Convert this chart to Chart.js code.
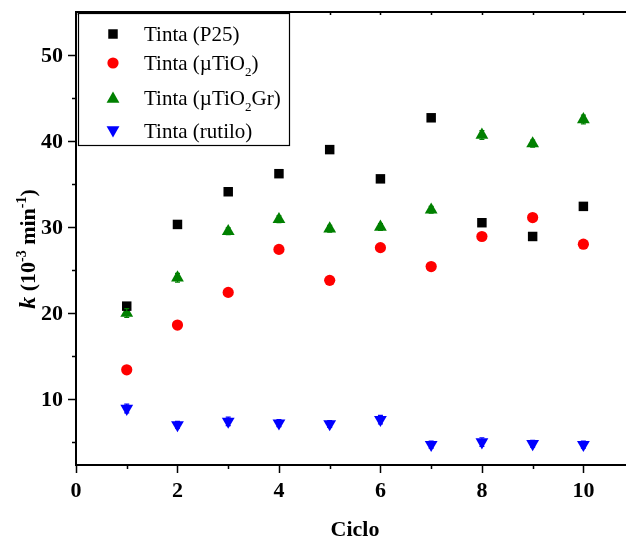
<!DOCTYPE html>
<html>
<head>
<meta charset="utf-8">
<script src="https://cdn.jsdelivr.net/npm/chart.js@4/dist/chart.umd.min.js"></script>
<style>
  html, body { margin: 0; padding: 0; background: #fff; }
  #wrap { width: 626px; height: 541px; }
</style>
</head>
<body>
<div id="wrap"><canvas id="c" width="626" height="541"></canvas></div>
<script>
// Reaction rate constant k over repeated photocatalytic cycles
const cycles = [1, 2, 3, 4, 5, 6, 7, 8, 9, 10];
const kP25    = [20.8, 30.3, 34.1, 36.2, 39.0, 35.6, 42.7, 30.5, 28.9, 32.4];
const kTiO2   = [13.4, 18.6, 22.4, 27.4, 23.8, 27.6, 25.4, 28.9, 31.1, 28.0];
const kTiO2Gr = [20.0, 24.1, 29.5, 30.9, 29.8, 30.0, 32.0, 40.7, 39.7, 42.5];
const kRutilo = [8.9, 7.0, 7.4, 7.2, 7.1, 7.6, 4.7, 5.0, 4.8, 4.7];
const errTiO2Gr = [0.5, 0.5, 0.4, 0.4, 0.4, 0.4, 0.4, 0.5, 0.4, 0.5];
const errRutilo = [0.5, 0.4, 0.5, 0.4, 0.4, 0.5, 0.4, 0.5, 0.4, 0.4];

const xMajor = [0, 2, 4, 6, 8, 10];
const xMinor = [1, 3, 5, 7, 9];
const yMajor = [10, 20, 30, 40, 50];
const yMinor = [5, 15, 25, 35, 45];

const seriesNames = ['Tinta (P25)', 'Tinta (\u00b5TiO_2)', 'Tinta (\u00b5TiO_2Gr)', 'Tinta (rutilo)'];

const SERIF = '"Liberation Serif", "Times New Roman", serif';

function pts(ys) { return cycles.map((c, i) => ({ x: c, y: ys[i] })); }

// Split text into segments; "_x" marks a subscript, "^x" a superscript
function richSegments(str) {
  const out = [];
  let i = 0, buf = '';
  while (i < str.length) {
    const ch = str[i];
    if (ch === '_' || ch === '^') {
      if (buf) { out.push({ t: buf, k: 'n' }); buf = ''; }
      let j = i + 1, s = '';
      if (str[j] === '{') { j++; while (str[j] !== '}') s += str[j++]; j++; }
      else { s = str[j]; j++; }
      out.push({ t: s, k: ch === '_' ? 'sub' : 'sup' });
      i = j;
    } else { buf += ch; i++; }
  }
  if (buf) out.push({ t: buf, k: 'n' });
  return out;
}

function drawRich(ctx, str, x, y, size, weight, align) {
  const segs = richSegments(str);
  const small = Math.round(size * 0.62);
  const fontFor = (s) => (s.k === 'n' ? `${weight} ${size}px ${SERIF}` : `${weight} ${small}px ${SERIF}`);
  let total = 0;
  segs.forEach(s => { ctx.font = fontFor(s); s.w = ctx.measureText(s.t).width; total += s.w; });
  let cx = align === 'center' ? x - total / 2 : x;
  ctx.textAlign = 'left';
  ctx.textBaseline = 'alphabetic';
  segs.forEach(s => {
    ctx.font = fontFor(s);
    let dy = 0;
    if (s.k === 'sub') dy = size * 0.28;
    if (s.k === 'sup') dy = -size * 0.42;
    ctx.fillText(s.t, cx, y + dy);
    cx += s.w;
  });
}

const markerRadius = [6.7, 5.6, 7.4, 7.4];

const frame = {
  id: 'frame',
  beforeDatasetsDraw(chart) {
    const { ctx, chartArea: a, scales: { x, y } } = chart;
    ctx.save();
    ctx.strokeStyle = '#000';
    ctx.fillStyle = '#000';
    ctx.lineWidth = 2;
    // axis lines (left, bottom, top)
    ctx.beginPath();
    ctx.moveTo(a.left, a.top); ctx.lineTo(a.left, a.bottom + 1);
    ctx.moveTo(a.left - 1, a.bottom); ctx.lineTo(a.right, a.bottom);
    ctx.moveTo(a.left - 1, a.top); ctx.lineTo(a.right, a.top);
    ctx.stroke();

    ctx.lineWidth = 1.5;
    ctx.beginPath();
    xMajor.forEach(v => { const px = Math.round(x.getPixelForValue(v)) + 0.5; ctx.moveTo(px, a.bottom); ctx.lineTo(px, a.bottom + 8); });
    xMinor.forEach(v => { const px = Math.round(x.getPixelForValue(v)) + 0.5; ctx.moveTo(px, a.bottom); ctx.lineTo(px, a.bottom + 4); });
    yMajor.forEach(v => { const py = Math.round(y.getPixelForValue(v)) + 0.5; ctx.moveTo(a.left, py); ctx.lineTo(a.left - 8, py); });
    yMinor.forEach(v => { const py = Math.round(y.getPixelForValue(v)) + 0.5; ctx.moveTo(a.left, py); ctx.lineTo(a.left - 4, py); });
    xMajor.concat(xMinor).forEach(v => { const px = Math.round(x.getPixelForValue(v)) + 0.5; ctx.moveTo(px, a.top); ctx.lineTo(px, a.top + 3); });
    ctx.stroke();

    // tick labels
    ctx.font = `bold 22px ${SERIF}`;
    ctx.textAlign = 'center';
    ctx.textBaseline = 'middle';
    xMajor.forEach(v => ctx.fillText(String(v), x.getPixelForValue(v), a.bottom + 26));
    ctx.textAlign = 'right';
    yMajor.forEach(v => ctx.fillText(String(v), a.left - 13, y.getPixelForValue(v) + 1));

    // axis titles
    ctx.textAlign = 'center';
    ctx.textBaseline = 'alphabetic';
    ctx.font = `bold 22px ${SERIF}`;
    ctx.fillText('Ciclo', 355, 536);

    ctx.translate(35, 249);
    ctx.rotate(-Math.PI / 2);
    const kFont = `italic bold 24px ${SERIF}`;
    ctx.font = kFont;
    const kW = ctx.measureText('k').width;
    const rest = ' (10^{-3} min^{-1})';
    const segs = richSegments(rest);
    let restW = 0;
    segs.forEach(s => { ctx.font = s.k === 'n' ? `bold 22px ${SERIF}` : `bold 14px ${SERIF}`; restW += ctx.measureText(s.t).width; });
    const start = -(kW + restW) / 2;
    ctx.font = kFont;
    ctx.textAlign = 'left';
    ctx.fillText('k', start, 0);
    drawRich(ctx, rest, start + kW, 0, 22, 'bold', 'left');
    ctx.restore();
  },
  afterDatasetsDraw(chart) {
    const { ctx, scales: { x, y } } = chart;
    ctx.save();
    // small error bars on the triangle series
    const bars = [[kTiO2Gr, errTiO2Gr, '#008000'], [kRutilo, errRutilo, '#0000ff']];
    bars.forEach(([vals, errs, col]) => {
      ctx.strokeStyle = col;
      ctx.lineWidth = 1.2;
      ctx.beginPath();
      cycles.forEach((c, i) => {
        const px = x.getPixelForValue(c);
        const yt = y.getPixelForValue(vals[i] + errs[i]);
        const yb = y.getPixelForValue(vals[i] - errs[i]);
        ctx.moveTo(px, yt); ctx.lineTo(px, yb);
        ctx.moveTo(px - 2.5, yt); ctx.lineTo(px + 2.5, yt);
        ctx.moveTo(px - 2.5, yb); ctx.lineTo(px + 2.5, yb);
      });
      ctx.stroke();
    });

    // legend box
    const lx = 78, ly = 13, lw = 211, lh = 132;
    ctx.fillStyle = '#fff';
    ctx.fillRect(lx, ly, lw, lh);
    ctx.strokeStyle = '#000';
    ctx.lineWidth = 1.2;
    ctx.strokeRect(lx + 0.5, ly + 0.5, lw, lh);
    const rows = [34, 63, 98, 131];
    chart.data.datasets.forEach((ds, i) => {
      ctx.fillStyle = ds.backgroundColor;
      ctx.strokeStyle = ds.backgroundColor;
      Chart.helpers.drawPoint(ctx, {
        pointStyle: ds.pointStyle,
        rotation: ds.pointRotation || 0,
        radius: markerRadius[i],
        borderWidth: 0
      }, 113, rows[i] + (ds.pointStyle === 'triangle' ? (ds.pointRotation ? -1 : 1) : 0));
    });
    ctx.fillStyle = '#000';
    seriesNames.forEach((n, i) => drawRich(ctx, n, 144, rows[i] + 7, 21, 'normal', 'left'));
    ctx.restore();
  }
};

const chart = new Chart(document.getElementById('c'), {
  type: 'scatter',
  data: {
    datasets: [
      { label: seriesNames[0], data: pts(kP25), pointStyle: 'rect', pointRadius: markerRadius[0], backgroundColor: '#000000', borderColor: '#000000', pointBorderWidth: 0 },
      { label: seriesNames[1], data: pts(kTiO2), pointStyle: 'circle', pointRadius: markerRadius[1], backgroundColor: '#ff0000', borderColor: '#ff0000', pointBorderWidth: 0 },
      { label: seriesNames[2], data: pts(kTiO2Gr), pointStyle: 'triangle', pointRadius: markerRadius[2], backgroundColor: '#008000', borderColor: '#008000', pointBorderWidth: 0 },
      { label: seriesNames[3], data: pts(kRutilo), pointStyle: 'triangle', pointRotation: 180, pointRadius: markerRadius[3], backgroundColor: '#0000ff', borderColor: '#0000ff', pointBorderWidth: 0 }
    ]
  },
  options: {
    responsive: false,
    devicePixelRatio: 1,
    animation: false,
    events: [],
    layout: { autoPadding: false, padding: { left: 76, right: 0, top: 12, bottom: 76 } },
    plugins: { legend: { display: false }, tooltip: { enabled: false } },
    scales: {
      x: { type: 'linear', min: 0, max: 10.84, display: false },
      y: { type: 'linear', min: 2.33, max: 55, display: false }
    }
  },
  plugins: [frame]
});
</script>
</body>
</html>
